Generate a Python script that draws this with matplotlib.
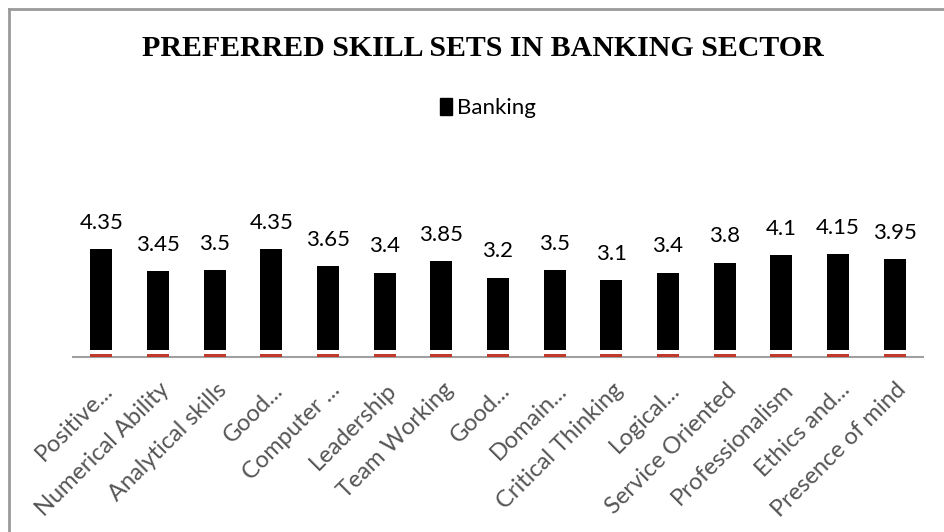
import numpy as np
import matplotlib.pyplot as plt
import matplotlib.transforms as mtransforms
from matplotlib.patches import Patch

'''Data'''
skills = ['Positive...', 'Numerical Ability', 'Analytical skills', 'Good...',
          'Computer ...', 'Leadership', 'Team Working', 'Good...', 'Domain...',
          'Critical Thinking', 'Logical...', 'Service Oriented', 'Professionalism',
          'Ethics and...', 'Presence of mind']
banking = [4.35, 3.45, 3.5, 4.35, 3.65, 3.4, 3.85, 3.2, 3.5, 3.1, 3.4, 3.8, 4.1, 4.15, 3.95]

W, H = 944, 532
fig = plt.figure(figsize=(W / 100, H / 100), dpi=100)
fig.patch.set_facecolor('white')

# chart frame (only top and left edge visible in the scan)
fig.add_artist(plt.Line2D([9 / W, 9 / W], [0, 1 - 9 / H], color='#9a9a9a', lw=2))
fig.add_artist(plt.Line2D([9 / W, 1], [1 - 9 / H, 1 - 9 / H], color='#9a9a9a', lw=2))

ax = fig.add_axes([73 / W, (H - 357) / H, 850 / W, 149 / H])
x = np.arange(len(skills))
gap = 0.28
vals = np.array(banking)
ax.bar(x, vals - gap, bottom=gap, width=0.39, color='black', zorder=3)
ax.bar(x, 0.12, width=0.39, color='#c0392b', zorder=3)

for xi, v in zip(x, banking):
    ax.annotate('{:g}'.format(v), (xi, v), xytext=(0, 14.5),
                textcoords='offset points', ha='center', va='baseline',
                fontsize=16, family='Lato', color='black')

ax.set_xlim(-0.5, len(skills) - 0.5)
ax.set_ylim(0, 6)
for s in ['top', 'right', 'left']:
    ax.spines[s].set_visible(False)
ax.spines['bottom'].set_color('#a0a0a0')
ax.spines['bottom'].set_linewidth(1.5)
ax.set_yticks([])
ax.set_xticks(x)
ax.set_xticklabels(skills, rotation=45, ha='right', rotation_mode='anchor',
                   fontsize=17, family='Lato', color='#555555')
ax.tick_params(axis='x', length=0, pad=16)
shift = mtransforms.ScaledTranslation(1 / 100, 0, fig.dpi_scale_trans)
for lab in ax.get_xticklabels():
    lab.set_transform(lab.get_transform() + shift)

fig.text(483 / W, 1 - 49 / H, 'PREFERRED SKILL SETS IN BANKING SECTOR',
         ha='center', va='center', fontsize=21.5, fontweight='bold',
         family='Liberation Serif')
fig.legend(handles=[Patch(color='black', label='Banking')], loc='center',
           bbox_to_anchor=(488 / W, 1 - 108 / H), frameon=False,
           prop={'family': 'Lato', 'size': 16}, handlelength=0.55,
           handleheight=0.85, handletextpad=0.25)

plt.savefig('out.png', dpi=100)
